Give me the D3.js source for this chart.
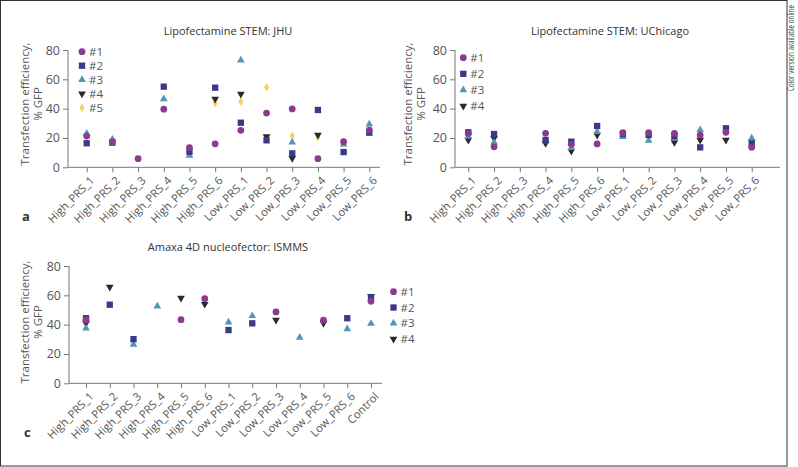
<!DOCTYPE html>
<html><head><meta charset="utf-8">
<script src="https://cdn.jsdelivr.net/npm/d3@7"></script>
<style>
html,body{margin:0;padding:0;background:#fff;}
svg{display:block;font-family:"Open Sans","Noto Sans",sans-serif;}
</style></head>
<body><svg id="chart" width="798" height="467"></svg>
<script>
// ---- data ----
const catsAB = ["High_PRS_1","High_PRS_2","High_PRS_3","High_PRS_4","High_PRS_5","High_PRS_6","Low_PRS_1","Low_PRS_2","Low_PRS_3","Low_PRS_4","Low_PRS_5","Low_PRS_6"];
const catsC = ["High_PRS_1","High_PRS_2","High_PRS_3","High_PRS_4","High_PRS_5","High_PRS_6","Low_PRS_1","Low_PRS_2","Low_PRS_3","Low_PRS_4","Low_PRS_5","Low_PRS_6","Control"];
const yTicks = [0, 20, 40, 60, 80];
const seriesNames = ["#1","#2","#3","#4","#5"];

const jhu1 = [21.3, 17.5, 5.9, 39.6, 13.4, 16.0, 25.2, 37.0, 39.8, 5.9, 17.5, 25.4];
const jhu2 = [16.4, 16.8, null, 55.0, 10.6, 54.3, 30.4, 18.4, 9.5, 39.1, 10.4, 23.6];
const jhu3 = [23.0, 19.0, null, 46.6, 8.0, null, 73.0, null, 17.0, null, 15.7, 29.3];
const jhu4 = [null, null, null, null, null, 46.6, 50.0, 21.1, 6.1, 22.0, null, null];
const jhu5 = [null, null, null, null, null, 43.7, 44.8, 54.6, 21.4, 20.5, null, null];

const uchi1 = [23.2, 14.0, null, 23.2, 15.7, 15.9, 23.6, 23.6, 23.2, 22.0, 23.9, 13.6];
const uchi2 = [23.9, 22.7, null, 18.6, 17.5, 28.2, 22.7, 22.0, 21.4, 13.6, 26.6, 15.7];
const uchi3 = [21.0, 17.0, null, 18.0, 13.4, 24.3, 20.9, 18.2, 20.0, 25.4, null, 19.8];
const uchi4 = [18.6, 19.8, null, 16.4, 11.1, 22.0, null, null, 17.0, 18.6, 18.6, 17.5];

const ismms1 = [43.2, null, null, null, 43.4, 57.7, null, null, 48.7, null, 43.0, null, 55.9];
const ismms2 = [44.4, 53.6, 30.1, null, null, null, 36.3, 40.9, null, null, null, 44.4, 58.6];
const ismms3 = [37.5, null, 26.4, 52.5, null, null, 41.6, 46.0, null, 31.3, null, 37.0, 40.7];
const ismms4 = [40.9, 65.7, null, null, 58.2, 54.0, null, null, 43.2, null, 41.0, null, 59.3];

// ---- styles ----
const colors = ["#8b3a90", "#3b3a88", "#4f97b6", "#2a2a2a", "#f1d35e"];
const symTypes = [d3.symbolCircle, d3.symbolSquare, d3.symbolTriangle, d3.symbolTriangle, d3.symbolDiamond];
const symSizes = [36, 40, 26, 26, 22];
const rotations = [0, 0, 0, 180, 0];

const svg = d3.select("#chart");

// frame
svg.append("rect").attr("x",0.5).attr("y",0.5).attr("width",786.5).attr("height",465.5)
  .attr("fill","none").attr("stroke","#333").attr("stroke-width",1);
svg.append("text").attr("transform","translate(794,91) rotate(-90) scale(0.74,1)")
  .attr("font-size",8.5).attr("fill","#444")
  .text("Color version available online");

function marker(g, i, x, y) {
  g.append("path")
    .attr("d", d3.symbol().type(symTypes[i]).size(symSizes[i])())
    .attr("transform", `translate(${x},${y}) rotate(${rotations[i]})`)
    .attr("fill", colors[i]);
}

function panel(cfg) {
  const g = svg.append("g");
  const y = d3.scaleLinear().domain([0, 80]).range([cfg.y0, cfg.y80]);
  const x = d3.scalePoint().domain(cfg.cats).range([cfg.xFirst, cfg.xLast]);

  // title
  g.append("text").attr("x", cfg.titleX).attr("y", cfg.titleY).attr("text-anchor","middle")
    .attr("font-size", 11).attr("fill","#333").text(cfg.title);

  // y axis
  const ya = g.append("g").attr("transform", `translate(${cfg.axL},0)`)
    .call(d3.axisLeft(y).tickValues(yTicks).tickSize(5).tickPadding(3));
  ya.select(".domain").attr("stroke","#777").attr("d", `M0,${cfg.y0}V${cfg.y80}`);
  ya.selectAll(".tick line").attr("stroke","#777");
  ya.selectAll(".tick text").attr("font-size", 12.5).attr("fill","#555").attr("font-family","Open Sans");

  // x axis
  const xa = g.append("g").attr("transform", `translate(0,${cfg.y0})`)
    .call(d3.axisBottom(x).tickSize(5).tickPadding(2));
  xa.select(".domain").attr("stroke","#777").attr("d", `M${cfg.axL},0H${cfg.axR}`);
  xa.selectAll(".tick line").attr("stroke","#777");
  xa.selectAll(".tick text").attr("font-size", 11.2).attr("fill","#555").attr("font-family","Open Sans")
    .attr("text-anchor","end").attr("dy", null)
    .attr("transform","translate(3,9) rotate(-45)");

  // y label
  g.append("text").attr("transform", `translate(${cfg.ylabX},${cfg.ylabY}) rotate(-90)`)
    .attr("text-anchor","middle").attr("font-size", 11.5).attr("fill","#555")
    .selectAll("tspan").data(["Transfection efficiency,", "% GFP"]).join("tspan")
    .attr("x", 0).attr("dy", (d, i) => i ? 12.5 : 0).text(d => d);

  // panel letter
  g.append("text").attr("x", cfg.letterX).attr("y", cfg.letterY).attr("font-size", 13)
    .attr("font-weight","bold").attr("fill","#333").text(cfg.letter);

  // points (drawn last series first so #1 is on top)
  for (let s = cfg.series.length - 1; s >= 0; s--) {
    cfg.series[s].forEach((v, j) => {
      if (v == null) return;
      marker(g, s, x(cfg.cats[j]), y(v));
    });
  }

  // legend
  cfg.series.forEach((_, s) => {
    const ly = cfg.legY + s * cfg.legStep;
    marker(g, s, cfg.legX, ly);
    g.append("text").attr("x", cfg.legX + 7).attr("y", ly + 4).attr("font-size", 11.5)
      .attr("fill","#555").text(seriesNames[s]);
  });
}

panel({
  title: "Lipofectamine STEM: JHU", titleX: 228, titleY: 35,
  cats: catsAB, series: [jhu1, jhu2, jhu3, jhu4, jhu5],
  y0: 167.3, y80: 50, axL: 68, axR: 380, xFirst: 86.7, xLast: 369.3,
  ylabX: 29, ylabY: 104, letter: "a", letterX: 22, letterY: 221,
  legX: 82, legY: 51.7, legStep: 14
});

panel({
  title: "Lipofectamine STEM: UChicago", titleX: 610, titleY: 35,
  cats: catsAB, series: [uchi1, uchi2, uchi3, uchi4],
  y0: 167.3, y80: 50, axL: 455, axR: 780, xFirst: 468.3, xLast: 751.7,
  ylabX: 412, ylabY: 104, letter: "b", letterX: 404, letterY: 221,
  legX: 463.3, legY: 57.7, legStep: 16.1
});

panel({
  title: "Amaxa 4D nucleofector: ISMMS", titleX: 228, titleY: 251,
  cats: catsC, series: [ismms1, ismms2, ismms3, ismms4],
  y0: 383.3, y80: 266, axL: 69, axR: 382, xFirst: 86, xLast: 371,
  ylabX: 29, ylabY: 322, letter: "c", letterX: 24, letterY: 437,
  legX: 393.5, legY: 291.7, legStep: 15.8
});
</script></body></html>
